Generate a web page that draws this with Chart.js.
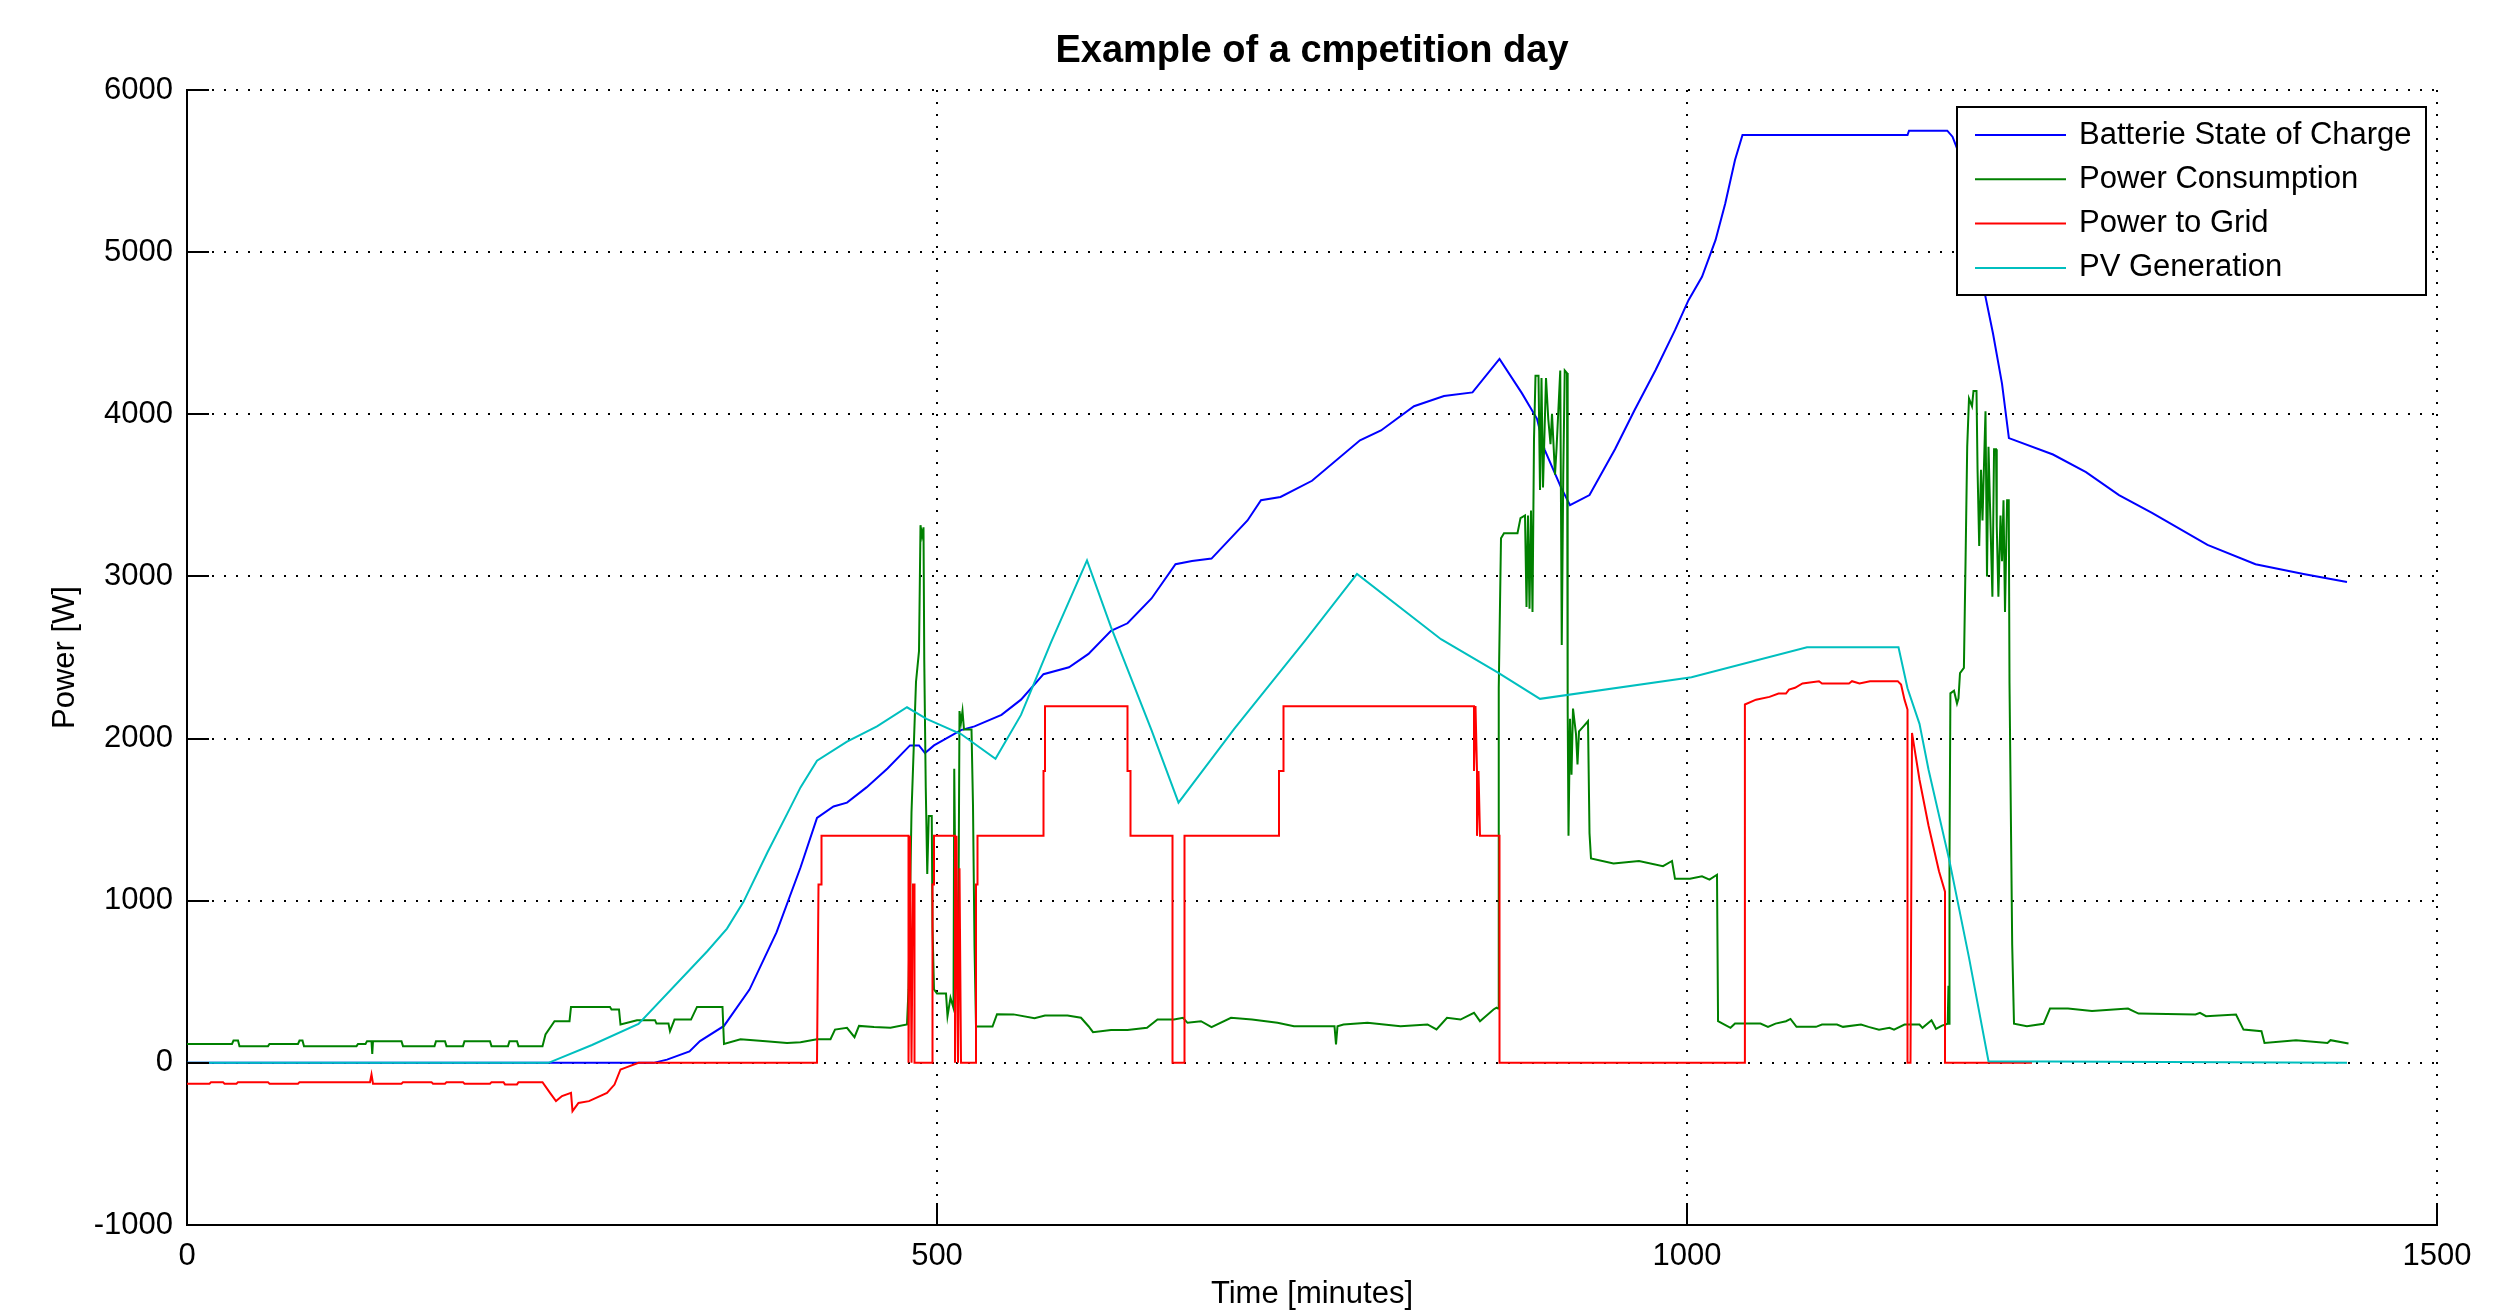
<!DOCTYPE html>
<html>
<head>
<meta charset="utf-8">
<title>Example of a cmpetition day</title>
<script src="https://cdn.jsdelivr.net/npm/chart.js@4.4.1/dist/chart.umd.min.js"></script>
<style>
    body { margin: 0; background: #fff; }
    canvas { display: block; }
</style>
</head>
<body>
<canvas id="miGrafico" width="2511" height="1315"></canvas>
<script>
// time in minutes, power in W
const batteryMin = [0, 311, 320, 335, 342, 358, 375, 393, 409, 420, 431, 440, 453, 467, 482, 488, 492, 498, 516, 525, 543, 556, 571, 588, 601, 616, 627, 643, 659, 670, 683, 707, 716, 729, 750, 782, 796, 818, 838, 857, 875, 890, 900, 905, 916, 922, 935, 952, 965, 979, 992, 1001, 1010, 1019, 1025.5, 1032, 1037, 1147, 1148, 1173.5, 1177, 1180, 1199, 1204, 1210, 1214.6, 1244, 1266, 1288, 1310, 1347, 1379, 1411, 1440];
const batteryW = [0, 0, 20, 70, 134, 228, 452, 805, 1205, 1511, 1581, 1605, 1699, 1816, 1958, 1958, 1911, 1958, 2052, 2075, 2146, 2240, 2397, 2440, 2522, 2664, 2711, 2864, 3075, 3095, 3110, 3345, 3470, 3490, 3590, 3840, 3900, 4050, 4113, 4135, 4342, 4129, 3972, 3784, 3549, 3439, 3502, 3784, 4025, 4272, 4519, 4704, 4848, 5074, 5300, 5568, 5722, 5722, 5749, 5749, 5712, 5640, 4724, 4498, 4189, 3853, 3752, 3643, 3502, 3392, 3195, 3075, 3015, 2965];

const consumptionMin = [0, 30, 31, 34, 35, 54, 55, 74, 75, 77, 78, 113, 114, 119, 120, 123, 123.5, 124, 143, 144, 165, 166, 172, 173, 184, 185, 202, 203, 214, 215, 220, 221, 237, 239, 245, 255, 256, 282, 283, 288, 289, 300, 312, 313, 321, 322, 325, 336, 340, 357, 358, 369, 386, 400, 409, 420, 429, 432, 440, 445, 448, 458, 469, 480, 481, 483, 486, 488, 489, 490, 491, 491.5, 492.5, 493.5, 494.5, 496.5, 497, 498, 500, 506, 507, 509, 511, 511.5, 512, 513, 514, 515, 516, 517, 518, 523, 524, 525, 526, 537, 540, 551, 565, 572, 587, 596, 601, 604, 616, 627, 640, 647, 658, 664, 667, 676, 683, 696, 710, 727, 738, 765, 766, 767, 771, 787, 809, 827, 833, 840, 849, 858, 862, 871, 873, 874, 874.5, 876, 878, 887, 889, 892, 893, 894, 895, 896, 897, 898, 899, 901, 902, 903, 904, 906, 907.5, 909, 910, 912, 913, 915.5, 916.5, 917.5, 918.5, 920, 920.3, 920.6, 921, 922, 923, 924, 926, 927, 928, 931, 934, 935, 936, 951, 968, 984, 990, 992, 1002, 1010, 1015, 1020, 1020.7, 1025, 1029, 1032, 1049, 1054, 1059, 1066, 1069, 1073, 1086, 1090, 1100, 1104, 1116, 1121, 1128, 1135, 1138, 1145, 1155, 1157, 1163, 1166, 1170, 1173.8, 1174.3, 1174.8, 1175, 1175.6, 1178, 1180, 1181, 1182, 1184.6, 1185.7, 1186.8, 1188, 1190, 1191, 1193, 1193.7, 1194.8, 1196, 1197, 1198, 1199, 1200, 1201, 1202, 1203.6, 1204.7, 1206, 1206.5, 1207.6, 1209, 1210, 1211, 1212, 1213.4, 1214.5, 1215, 1216.8, 1218, 1226.6, 1237.7, 1242, 1254, 1270, 1294, 1301, 1339, 1342, 1346, 1366, 1371, 1383, 1385, 1406, 1427, 1429, 1441];
const consumptionW = [117, 117, 138, 138, 103, 103, 117, 117, 138, 138, 103, 103, 117, 117, 134, 134, 55, 134, 134, 103, 103, 134, 134, 103, 103, 134, 134, 103, 103, 134, 134, 103, 103, 175, 257, 257, 345, 345, 329, 329, 236, 263, 263, 242, 242, 195, 267, 267, 345, 345, 117, 146, 134, 122, 127, 146, 146, 205, 216, 158, 228, 221, 216, 237, 453, 1546, 2349, 2539, 3316, 3250, 3303, 2489, 1700, 1165, 1522, 1522, 835, 453, 427, 427, 288, 402, 338, 1814, 1318, 960, 377, 2170, 2100, 2170, 2056, 2056, 1585, 720, 224, 224, 300, 299, 275, 292, 292, 278, 226, 189, 202, 202, 216, 267, 267, 278, 247, 257, 220, 278, 267, 247, 226, 226, 113, 226, 237, 247, 226, 237, 206, 278, 267, 309, 257, 329, 340, 335, 2310, 3235, 3266, 3266, 3360, 3376, 2812, 3376, 2800, 3407, 2781, 3846, 4238, 4238, 3533, 4223, 3549, 4223, 3972, 3815, 4003, 3627, 3784, 4270, 2577, 3627, 4270, 4254, 3094, 2185, 1401, 2122, 1777, 2185, 2028, 1840, 2044, 2075, 2107, 1417, 1260, 1229, 1245, 1213, 1245, 1135, 1135, 1150, 1130, 1160, 257, 236, 216, 242, 242, 222, 242, 257, 271, 222, 222, 236, 236, 222, 236, 222, 205, 216, 205, 236, 236, 216, 263, 210, 230, 241, 476, 241, 1245, 2279, 2295, 2216, 2248, 2404, 2436, 3094, 3799, 4097, 4050, 4144, 4144, 3658, 3188, 3658, 3345, 3690, 4019, 3000, 3799, 3439, 2875, 3784, 3784, 3313, 2875, 3376, 3094, 3470, 2781, 3470, 3470, 2342, 727, 241, 226, 241, 335, 335, 320, 335, 304, 298, 308, 288, 298, 205, 195, 123, 140, 123, 140, 119];

const gridMin = [0, 15, 16, 24, 25, 33, 34, 54, 55, 74, 75, 122, 123, 124, 143, 144, 163, 164, 172, 173, 184, 185, 202, 203, 211, 212, 220, 221, 237, 242, 246, 250, 256, 257, 261, 268, 280, 285, 289, 292, 301, 420, 421, 423, 423, 481, 481, 482, 483, 484, 485, 485, 497, 497, 498, 498, 512, 512, 513, 514, 515, 516, 526, 526, 527, 527, 571, 571, 572, 572, 627, 627, 629, 629, 657, 657, 665, 665, 728, 728, 731, 731, 858, 858, 859, 860, 860, 861, 862, 875, 875, 1038.6, 1038.6, 1046, 1055, 1061, 1066, 1068, 1072, 1077, 1088, 1090, 1108, 1110, 1115, 1122, 1140.5, 1142.7, 1145, 1147, 1147, 1149, 1150, 1155, 1161, 1168, 1172, 1172, 1230];
const gridW = [-129, -129, -119, -119, -129, -129, -119, -119, -129, -129, -119, -119, -72, -129, -129, -119, -119, -129, -129, -119, -119, -129, -129, -119, -119, -133, -133, -119, -119, -185, -236, -205, -185, -298, -247, -236, -185, -134, -41, -31, 0, 0, 1100, 1100, 1400, 1400, 0, 1400, 0, 1100, 1100, 0, 0, 1100, 1100, 1400, 1400, 0, 1400, 0, 1200, 0, 0, 1100, 1100, 1400, 1400, 1800, 1800, 2200, 2200, 1800, 1800, 1400, 1400, 0, 0, 1400, 1400, 1800, 1800, 2200, 2200, 1800, 2200, 1800, 1400, 1800, 1400, 1400, 0, 0, 2210, 2240, 2257, 2278, 2278, 2302, 2313, 2340, 2354, 2340, 2340, 2354, 2340, 2354, 2354, 2333, 2240, 2179, 0, 0, 2035, 1746, 1464, 1182, 1056, 0, 0];

const pvMin = [0, 241, 270, 301, 347, 360, 371, 387, 400, 409, 420, 440, 460, 480, 493, 516, 539, 556, 576, 600, 616, 643, 661, 698, 745, 780, 836, 874, 902, 1003, 1080, 1141, 1147, 1155, 1161, 1175, 1188, 1201, 1440];
const pvW = [0, 0, 110, 240, 690, 828, 993, 1299, 1534, 1699, 1864, 1981, 2075, 2193, 2122, 2028, 1875, 2146, 2593, 3099, 2687, 2052, 1605, 2058, 2600, 3015, 2613, 2407, 2245, 2378, 2563, 2563, 2310, 2091, 1809, 1244, 649, 10, 0];

const labelsSerie = ['Batterie State of Charge', 'Power Consumption', 'Power to Grid', 'PV Generation'];
const xTicks = [0, 500, 1000, 1500];
const yTicks = [-1000, 0, 1000, 2000, 3000, 4000, 5000, 6000];
const tituloGrafico = 'Example of a cmpetition day';

const fuente = 'Liberation Sans, Arial, sans-serif';

function puntos(xs, ys) {
    const out = [];
    for (let i = 0; i < xs.length; i++) {
        out.push({ x: xs[i], y: ys[i] });
    }
    return out;
}

function serie(label, xs, ys, color, order) {
    return {
        label: label,
        data: puntos(xs, ys),
        borderColor: color,
        backgroundColor: color,
        borderWidth: 2,
        pointRadius: 0,
        showLine: true,
        fill: false,
        tension: 0,
        order: order
    };
}

// title centred over the plot area (not the whole canvas)
const titulo = {
    id: 'titulo',
    afterDraw(chart) {
        const ctx = chart.ctx;
        const area = chart.chartArea;
        ctx.save();
        ctx.font = 'bold 38px ' + fuente;
        ctx.fillStyle = '#000';
        ctx.textAlign = 'center';
        ctx.textBaseline = 'middle';
        ctx.fillText(tituloGrafico, (area.left + area.right) / 2, 52);
        ctx.restore();
    }
};

// small inward tick marks like the original plot
const marcas = {
    id: 'marcas',
    afterDraw(chart) {
        const ctx = chart.ctx;
        const area = chart.chartArea;
        const sx = chart.scales.x;
        const sy = chart.scales.y;
        ctx.save();
        ctx.strokeStyle = '#000';
        ctx.lineWidth = 2;
        ctx.beginPath();
        for (let v of yTicks) {
            const py = Math.round(sy.getPixelForValue(v));
            ctx.moveTo(area.left, py);
            ctx.lineTo(area.left + 22, py);
        }
        for (let v of xTicks) {
            const px = Math.round(sx.getPixelForValue(v));
            ctx.moveTo(px, area.bottom);
            ctx.lineTo(px, area.bottom - 22);
        }
        ctx.stroke();
        ctx.restore();
    }
};

// boxed legend inside the plot, top right
const leyenda = {
    id: 'leyenda',
    afterDraw(chart) {
        const ctx = chart.ctx;
        const area = chart.chartArea;
        const w = 469, h = 188;
        const x0 = area.right - 11 - w;
        const y0 = area.top + 17;
        ctx.save();
        ctx.fillStyle = '#fff';
        ctx.fillRect(x0, y0, w, h);
        ctx.strokeStyle = '#000';
        ctx.lineWidth = 2;
        ctx.strokeRect(x0, y0, w, h);
        ctx.font = '31px ' + fuente;
        ctx.textBaseline = 'middle';
        ctx.textAlign = 'left';
        chart.data.datasets.forEach((ds, i) => {
            const yy = y0 + 28 + i * 44.3;
            ctx.strokeStyle = ds.borderColor;
            ctx.lineWidth = 2;
            ctx.beginPath();
            ctx.moveTo(x0 + 18, yy);
            ctx.lineTo(x0 + 109, yy);
            ctx.stroke();
            ctx.fillStyle = '#000';
            ctx.fillText(ds.label, x0 + 122, yy);
        });
        ctx.restore();
    }
};

const ejes = {
    color: '#000',
    lineWidth: 2,
    drawTicks: false
};

const grafico = new Chart(document.getElementById('miGrafico'), {
    type: 'scatter',
    data: {
        datasets: [
            serie(labelsSerie[0], batteryMin, batteryW, '#0000ff', 4),
            serie(labelsSerie[1], consumptionMin, consumptionW, '#008000', 3),
            serie(labelsSerie[2], gridMin, gridW, '#ff0000', 2),
            serie(labelsSerie[3], pvMin, pvW, '#00bfbf', 1)
        ]
    },
    options: {
        responsive: false,
        animation: false,
        layout: { padding: { left: 0, right: 74, top: 90, bottom: 0 } },
        plugins: {
            legend: { display: false },
            tooltip: { enabled: false },
            title: { display: false }
        },
        scales: {
            x: {
                type: 'linear',
                min: 0,
                max: 1500,
                afterBuildTicks: s => { s.ticks = xTicks.map(v => ({ value: v })); },
                afterFit: s => { s.height = 90; },
                ticks: {
                    color: '#000',
                    font: { family: fuente, size: 31 },
                    padding: 13,
                    maxRotation: 0,
                    callback: v => String(v)
                },
                grid: ejes,
                border: { display: true, color: '#000', width: 2, dash: [2, 10] },
                title: {
                    display: true,
                    text: 'Time [minutes]',
                    color: '#000',
                    font: { family: fuente, size: 31 },
                    padding: { top: 0, bottom: 2 }
                }
            },
            y: {
                type: 'linear',
                min: -1000,
                max: 6000,
                afterBuildTicks: s => { s.ticks = yTicks.map(v => ({ value: v })); },
                afterFit: s => { s.width = 187; },
                ticks: {
                    color: '#000',
                    font: { family: fuente, size: 31 },
                    padding: 14,
                    callback: v => String(v)
                },
                grid: ejes,
                border: { display: true, color: '#000', width: 2, dash: [2, 10] },
                title: {
                    display: true,
                    text: 'Power [W]',
                    color: '#000',
                    font: { family: fuente, size: 31 },
                    padding: { top: 47, bottom: 0 }
                }
            }
        }
    },
    plugins: [titulo, marcas, leyenda]
});
</script>
</body>
</html>
